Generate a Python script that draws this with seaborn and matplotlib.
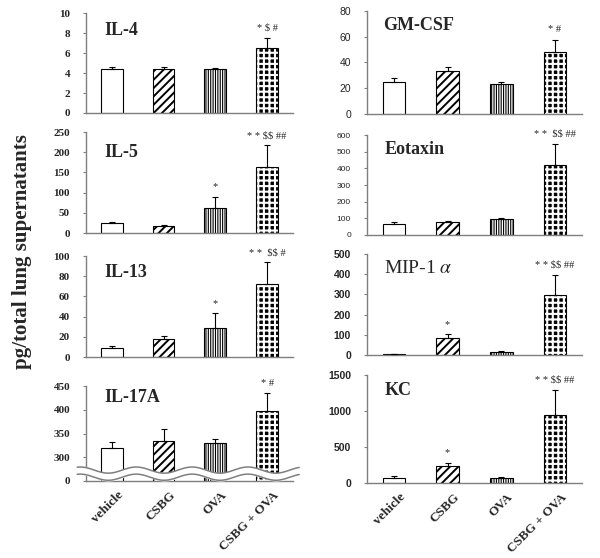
import numpy as np
import matplotlib
matplotlib.use("Agg")
import matplotlib.pyplot as plt
import seaborn as sns
from matplotlib.patches import Rectangle
from matplotlib.transforms import ScaledTranslation

sns.set_style("ticks")
plt.rcParams["font.family"] = ["Liberation Serif", "DejaVu Serif"]
plt.rcParams["mathtext.fontset"] = "stix"
plt.rcParams["hatch.linewidth"] = 1.2

groups = ["vehicle", "CSBG", "OVA", "CSBG + OVA"]

# mean values and upper error (pg/total lung supernatants)
il4 = [4.4, 4.4, 4.4, 6.5]
il4_err = [0.2, 0.25, 0.15, 1.05]
il4_sig = ["", "", "", "* $ #"]

gmcsf = [24.7, 33.2, 23.4, 48.3]
gmcsf_err = [3.6, 3.0, 1.8, 9.5]
gmcsf_sig = ["", "", "", "* #"]

il5 = [24.8, 18.0, 61.9, 164.0]
il5_err = [1.6, 1.0, 28.0, 53.0]
il5_sig = ["", "", "*", "* * $$ ##"]

eotaxin = [64, 80, 94, 421]
eotaxin_err = [12, 4, 6, 125]
eotaxin_sig = ["", "", "", "* *  $$ ##"]

il13 = [8.6, 17.5, 28.8, 72.2]
il13_err = [2.7, 3.4, 14.9, 21.5]
il13_sig = ["", "", "*", "* *  $$ #"]

mip1a = [5, 82, 16, 296]
mip1a_err = [1.5, 20, 4, 99]
mip1a_sig = ["", "*", "", "* * $$ ##"]

il17a = [320, 333.6, 330, 398.6]
il17a_err = [11.5, 25, 8, 37]
il17a_sig = ["", "", "", "* #"]

kc = [75, 233, 65, 941]
kc_err = [27, 51, 19, 349]
kc_sig = ["", "*", "", "* * $$ ##"]

fig = plt.figure(figsize=(6, 5.58), dpi=100)

grey = "#7f7f7f"
faces = ["white", "white", "white", "black"]
hatches = ["", "////", "|||||||", "+++"]
hatch_lw = [1.0, 1.4, 0.8, 1.5]

serif_bold = dict(family="Liberation Serif", weight="bold", size=8)
sans_norm = dict(family="Liberation Sans", weight="normal", size=7.5)
sans_small = dict(family="Liberation Sans", weight="normal", size=6)
sans_bold = dict(family="Liberation Sans", weight="bold", size=7.5)

panels = [
    # title, values, err, sig, rect, ylim, ticks, tick font, title pos, title size/weight, show x labels
    ("IL-4", il4, il4_err, il4_sig, [0.1433, 0.7975, 0.345, 0.179], (0, 10), [0, 2, 4, 6, 8, 10], serif_bold, (0.09, 0.83), (13, "bold"), False),
    ("IL-5", il5, il5_err, il5_sig, [0.1433, 0.5824, 0.345, 0.181], (0, 250), [0, 50, 100, 150, 200, 250], serif_bold, (0.09, 0.80), (13, "bold"), False),
    ("IL-13", il13, il13_err, il13_sig, [0.1433, 0.3602, 0.345, 0.181], (0, 100), [0, 20, 40, 60, 80, 100], serif_bold, (0.09, 0.84), (13, "bold"), False),
    ("IL-17A", il17a, il17a_err, il17a_sig, [0.1433, 0.138, 0.345, 0.170], (250, 450), [250, 300, 350, 400, 450], serif_bold, (0.09, 0.88), (13, "bold"), True),
    ("GM-CSF", gmcsf, gmcsf_err, gmcsf_sig, [0.6117, 0.7957, 0.358, 0.1846], (0, 80), [0, 20, 40, 60, 80], sans_norm, (0.075, 0.86), (13, "bold"), False),
    ("Eotaxin", eotaxin, eotaxin_err, eotaxin_sig, [0.6117, 0.5789, 0.358, 0.179], (0, 600), [0, 100, 200, 300, 400, 500, 600], sans_small, (0.08, 0.86), (13, "bold"), False),
    ("MIP-1 $\\alpha$", mip1a, mip1a_err, mip1a_sig, [0.6117, 0.3638, 0.358, 0.181], (0, 500), [0, 100, 200, 300, 400, 500], sans_bold, (0.08, 0.86), (14, "normal"), False),
    ("KC", kc, kc_err, kc_sig, [0.6117, 0.1344, 0.358, 0.1935], (0, 1500), [0, 500, 1000, 1500], sans_bold, (0.08, 0.86), (13, "bold"), True),
]

for title, vals, err, sig, rect, ylim, ticks, tfont, tpos, tstyle, xlab in panels:
    ax = fig.add_axes(rect)
    sns.barplot(x=groups, y=vals, hue=groups, palette=faces, legend=False,
                saturation=1, width=0.42, edgecolor="black", linewidth=0.8, ax=ax)
    bars = list(ax.patches)
    for p, h, lw, fc in zip(bars, hatches, hatch_lw, faces):
        p.set_hatch(h)
        if hasattr(p, "set_hatch_linewidth"):
            p.set_hatch_linewidth(lw)
        if fc == "black":
            # white hatch on black face, then a black outline on top
            p.set_edgecolor("white")
            ax.add_patch(Rectangle((p.get_x(), p.get_y()), p.get_width(), p.get_height(),
                                   fill=False, edgecolor="black", linewidth=0.8, zorder=p.get_zorder() + 0.1))
    xc = [p.get_x() + p.get_width() / 2 for p in bars]
    ax.errorbar(xc, vals, yerr=[np.zeros(len(err)), err], fmt="none", ecolor="black",
                elinewidth=0.8, capsize=2.5, capthick=0.8, zorder=5)
    tops = np.array(vals) + np.array(err)
    for x, t, s in zip(xc, tops, sig):
        if s:
            ax.annotate(s, xy=(x, t), xytext=(0, 7), textcoords="offset points",
                        ha="center", va="center", fontsize=7.5, family="Liberation Serif",
                        parse_math=False)

    ax.set_xlim(-0.5, 3.5)
    ax.set_ylim(*ylim)
    ax.set_yticks(ticks)
    if title == "IL-17A":
        ax.set_yticklabels(["0"] + [str(t) for t in ticks[1:]])
        # axis break (wavy double line)
        xs = np.linspace(-0.67, 3.62, 300)
        wave = 6.5 * np.sin(2 * np.pi * (xs - 0.2) / 1.08)
        ax.fill_between(xs, 258 + wave, 273 + wave, color="white", zorder=6, clip_on=False)
        ax.plot(xs, 273 + wave, color=grey, lw=1.1, zorder=7, clip_on=False)
        ax.plot(xs, 258 + wave, color=grey, lw=1.1, zorder=7, clip_on=False)
    else:
        ax.set_yticklabels([str(t) for t in ticks])
    for lbl in ax.get_yticklabels():
        lbl.set_fontproperties(matplotlib.font_manager.FontProperties(**tfont))
    ax.tick_params(axis="y", length=2.5, width=0.8, color=grey, pad=9)
    ax.tick_params(axis="x", length=0)
    for side in ["top", "right"]:
        ax.spines[side].set_visible(False)
    for side in ["left", "bottom"]:
        ax.spines[side].set_color(grey)
        ax.spines[side].set_linewidth(1.0)
    ax.set_xlabel("")
    ax.set_ylabel("")
    if xlab:
        ax.set_xticks(range(len(groups)))
        ax.set_xticklabels(groups, rotation=45, ha="right", va="top", rotation_mode="anchor",
                           fontsize=9.5, fontweight="bold")
        ax.tick_params(axis="x", pad=6)
        shift = ScaledTranslation(4 / 72, 0, fig.dpi_scale_trans)
        for lbl in ax.get_xticklabels():
            lbl.set_transform(lbl.get_transform() + shift)
    else:
        ax.set_xticklabels([])
    ax.text(tpos[0], tpos[1], title, transform=ax.transAxes, fontsize=tstyle[0],
            fontweight=tstyle[1], va="center", ha="left")

fig.text(0.037, 0.549, "pg/total lung supernatants", rotation=90, ha="center", va="center",
         fontsize=15, fontweight="bold")

fig.savefig("out.png", dpi=100)
